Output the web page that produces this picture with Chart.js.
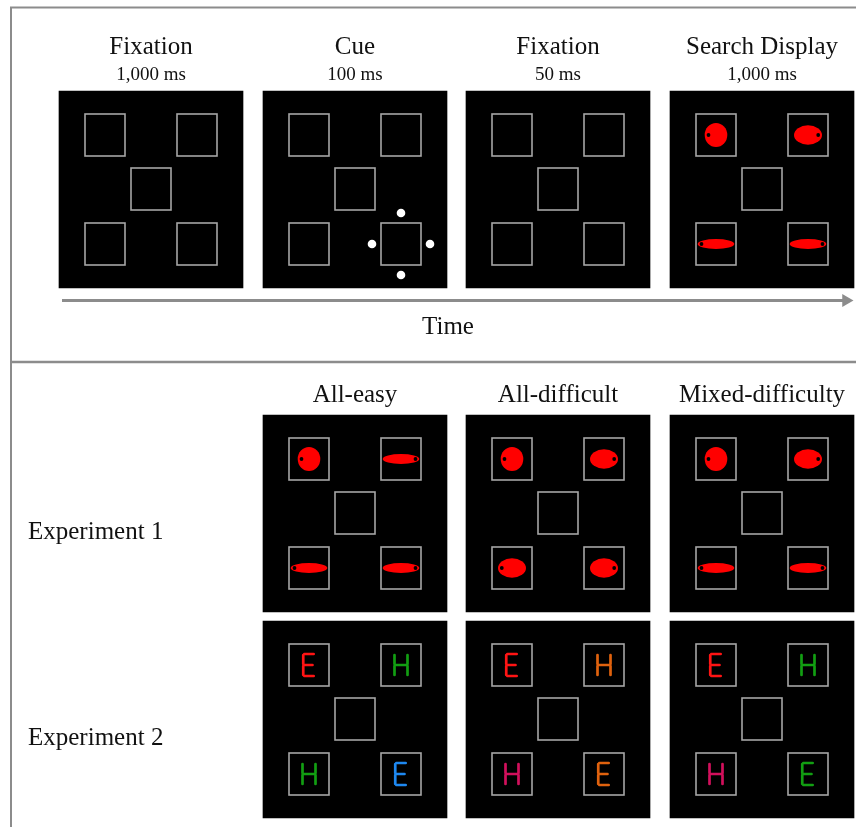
<!DOCTYPE html>
<html>
<head>
<meta charset="utf-8">
<script src="https://cdn.jsdelivr.net/npm/chart.js@4.4.1/dist/chart.umd.min.js"></script>
<style>
  html, body { margin: 0; padding: 0; background: #fff; }
</style>
</head>
<body>
<canvas id="paradigmChart" width="856" height="827"></canvas>
<script>
// Trial sequence (top half)
const seqTitles = ['Fixation', 'Cue', 'Fixation', 'Search Display'];
const seqDurations = ['1,000 ms', '100 ms', '50 ms', '1,000 ms'];
const cueFrame = 1;   // which frame shows the cue
const cueSlot = 3;    // slots: 0 top-left, 1 top-right, 2 bottom-left, 3 bottom-right
const searchShapes = ['circle', 'oval', 'bar', 'bar'];
const timeLabel = 'Time';

// Conditions (bottom half)
const conditions = ['All-easy', 'All-difficult', 'Mixed-difficulty'];
const experiments = ['Experiment 1', 'Experiment 2'];
const exp1Shapes = [
    ['circle', 'bar', 'bar', 'bar'],
    ['circle', 'oval', 'oval', 'oval'],
    ['circle', 'oval', 'bar', 'bar']
];
const exp2Letters = [
    ['E', 'H', 'H', 'E'],
    ['E', 'H', 'H', 'E'],
    ['E', 'H', 'H', 'E']
];
const exp2Colors = [
    ['red', 'green', 'green', 'blue'],
    ['red', 'orange', 'magenta', 'orange'],
    ['red', 'green', 'magenta', 'green']
];

// ---- layout (pixels == axis units, the scales span the whole canvas) ----
const W = 856, H = 827;
const PANEL_W = 184, PANEL_H = 197;
const seqLefts = seqTitles.map((_, i) => Math.round(59 + i * 203.7));
const condLefts = conditions.map((_, j) => seqLefts[j + 1]);
const SEQ_TOP = 91;
const EXP_TOPS = [415, 621];
const slotPos = [[46, 44], [138, 44], [46, 153], [138, 153]];
const centrePos = [92, 98];
const cueOffsets = [[0, -31], [0, 31], [-29, 0], [29, 0]];

const letterPalette = {
    red: '#ff1414', green: '#129e12', blue: '#1e88f0',
    orange: '#e0620e', magenta: '#d2105c'
};
const shapeSize = { circle: [11.3, 12], oval: [14, 9.7], bar: [18.3, 5] };
const glyphSegs = {
    E: [[0, 0, 0, 0.5], [0, 0.5, 0, 1], [0, 0, 1, 0], [0, 0.5, 0.9, 0.5], [0, 1, 1, 1]],
    H: [[0, 0, 0, 0.5], [0, 0.5, 0, 1], [1, 0, 1, 0.5], [1, 0.5, 1, 1], [0, 0.5, 1, 0.5]]
};

// little offscreen pictures used as point styles
function makeSquare() {
    const c = document.createElement('canvas');
    c.width = 42; c.height = 44;
    const g = c.getContext('2d');
    g.strokeStyle = '#a6a6a6';
    g.lineWidth = 1.6;
    g.strokeRect(1, 1, 40, 42);
    return c;
}
function makeShape(kind, side) {
    const c = document.createElement('canvas');
    c.width = 44; c.height = 30;
    const g = c.getContext('2d');
    const [rx, ry] = shapeSize[kind];
    g.fillStyle = '#ff0000';
    g.beginPath();
    g.ellipse(22, 15, rx, ry, 0, 0, Math.PI * 2);
    g.fill();
    g.fillStyle = '#000';
    g.beginPath();
    g.arc(22 + side * (rx - 3.8), 15, 1.9, 0, Math.PI * 2);
    g.fill();
    return c;
}
function makeLetter(ch, colour) {
    const c = document.createElement('canvas');
    c.width = 20; c.height = 30;
    const g = c.getContext('2d');
    const w = ch === 'E' ? 11.5 : 13, h = 22, gap = 1.1;
    const x0 = (20 - w) / 2, y0 = 4;
    g.strokeStyle = letterPalette[colour];
    g.lineWidth = 2.7;
    g.lineCap = 'round';
    glyphSegs[ch].forEach(([ax, ay, bx, by]) => {
        let x1 = x0 + ax * w, y1 = y0 + ay * h, x2 = x0 + bx * w, y2 = y0 + by * h;
        const len = Math.hypot(x2 - x1, y2 - y1);
        const ux = (x2 - x1) / len, uy = (y2 - y1) / len;
        g.beginPath();
        g.moveTo(x1 + ux * gap, y1 + uy * gap);
        g.lineTo(x2 - ux * gap, y2 - uy * gap);
        g.stroke();
    });
    return c;
}

// ---- build point lists ----
const panels = [];
seqLefts.forEach((left, i) => panels.push({ left, top: SEQ_TOP, seq: i }));
EXP_TOPS.forEach((top, e) => condLefts.forEach((left, j) => panels.push({ left, top, exp: e, cond: j })));

const squareImg = makeSquare();
const squarePts = [];
const shapePts = [], shapeImgs = [];
const letterPts = [], letterImgs = [];
const cuePts = [];

panels.forEach(p => {
    squarePts.push({ x: p.left + centrePos[0], y: p.top + centrePos[1] });
    slotPos.forEach(([dx, dy], s) => {
        const pt = { x: p.left + dx, y: p.top + dy };
        squarePts.push(pt);
        const side = s % 2 === 0 ? -1 : 1;
        if (p.seq === 3) {
            shapePts.push(pt); shapeImgs.push(makeShape(searchShapes[s], side));
        }
        if (p.exp === 0) {
            shapePts.push(pt); shapeImgs.push(makeShape(exp1Shapes[p.cond][s], side));
        }
        if (p.exp === 1) {
            letterPts.push(pt); letterImgs.push(makeLetter(exp2Letters[p.cond][s], exp2Colors[p.cond][s]));
        }
        if (p.seq === cueFrame && s === cueSlot) {
            cueOffsets.forEach(([ox, oy]) => cuePts.push({ x: pt.x + ox, y: pt.y + oy }));
        }
    });
});

const GREY = '#8c8c8c';
const serif = '"Liberation Serif", "Times New Roman", serif';

const textPlugin = {
    id: 'paradigmText',
    afterDatasetsDraw(chart) {
        const { ctx, scales: { x, y } } = chart;
        ctx.save();
        ctx.fillStyle = '#111';
        ctx.textBaseline = 'alphabetic';
        ctx.textAlign = 'center';
        seqTitles.forEach((t, i) => {
            const cx = x.getPixelForValue(seqLefts[i] + PANEL_W / 2);
            ctx.font = '25px ' + serif;
            ctx.fillText(t, cx, y.getPixelForValue(53.5));
            ctx.font = '19px ' + serif;
            ctx.fillText(seqDurations[i], cx, y.getPixelForValue(79.5));
        });
        ctx.font = '25px ' + serif;
        ctx.fillText(timeLabel, x.getPixelForValue(448), y.getPixelForValue(333.5));
        conditions.forEach((t, j) => {
            ctx.fillText(t, x.getPixelForValue(condLefts[j] + PANEL_W / 2), y.getPixelForValue(402));
        });
        ctx.textAlign = 'left';
        experiments.forEach((t, e) => {
            ctx.fillText(t, x.getPixelForValue(28), y.getPixelForValue(EXP_TOPS[e] + 123.5));
        });
        ctx.restore();
    }
};

const ctx = document.getElementById('paradigmChart').getContext('2d');
const paradigmChart = new Chart(ctx, {
    type: 'scatter',
    data: {
        datasets: [
            {   // black display panels
                type: 'bar',
                data: panels.map(p => ({ x: p.left + PANEL_W / 2, y: [p.top, p.top + PANEL_H] })),
                backgroundColor: '#000',
                borderWidth: 0,
                barThickness: PANEL_W,
                order: 10
            },
            {   // outer frame
                type: 'line',
                data: [{ x: 11, y: H }, { x: 11, y: 7.5 }, { x: W, y: 7.5 }],
                borderColor: GREY, borderWidth: 2, pointRadius: 0, fill: false,
                order: 9
            },
            {   // divider
                type: 'line',
                data: [{ x: 11, y: 362 }, { x: W, y: 362 }],
                borderColor: GREY, borderWidth: 2.5, pointRadius: 0, fill: false,
                order: 9
            },
            {   // time axis
                type: 'line',
                data: [{ x: 62, y: 300.5 }, { x: 846, y: 300.5 }],
                borderColor: GREY, borderWidth: 3, pointRadius: 0, fill: false,
                order: 8
            },
            {   // arrow head
                data: [{ x: 846, y: 300.5 }],
                pointStyle: 'triangle', rotation: 90, pointRadius: 7.5,
                backgroundColor: GREY, borderWidth: 0,
                order: 7
            },
            {   // placeholder boxes
                data: squarePts,
                pointStyle: squareImg, pointRadius: 1, borderWidth: 0,
                order: 5
            },
            {   // search items (experiment 1)
                data: shapePts,
                pointStyle: c => shapeImgs[c.dataIndex], pointRadius: 1, borderWidth: 0,
                order: 3
            },
            {   // letters (experiment 2)
                data: letterPts,
                pointStyle: c => letterImgs[c.dataIndex], pointRadius: 1, borderWidth: 0,
                order: 3
            },
            {   // cue
                data: cuePts,
                pointStyle: 'circle', pointRadius: 4.3,
                backgroundColor: '#fff', borderWidth: 0,
                order: 3
            }
        ]
    },
    options: {
        responsive: false,
        animation: false,
        events: [],
        layout: { padding: 0, autoPadding: false },
        scales: {
            x: { type: 'linear', min: 0, max: W, display: false, offset: false },
            y: { type: 'linear', min: 0, max: H, reverse: true, display: false }
        },
        plugins: {
            legend: { display: false },
            tooltip: { enabled: false }
        }
    },
    plugins: [textPlugin]
});
</script>
</body>
</html>
